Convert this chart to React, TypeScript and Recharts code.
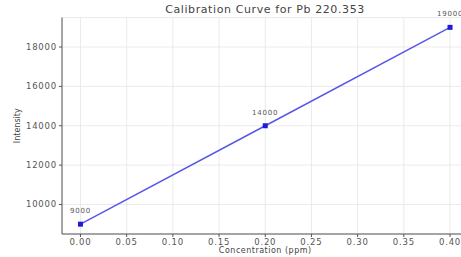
import React from 'react';
import {
  LineChart,
  Line,
  XAxis,
  YAxis,
  CartesianGrid,
  LabelList,
  Label,
} from 'recharts';

// Calibration standards
const concentrations = [0, 0.2, 0.4];
const intensities = [9000, 14000, 19000];

const xTicks = [0, 0.05, 0.1, 0.15, 0.2, 0.25, 0.3, 0.35, 0.4];
const yTicks = [10000, 12000, 14000, 16000, 18000];

const FONT = '"DejaVu Sans", sans-serif';
const TICK = { fontSize: 8.5, fill: '#555', fontFamily: FONT, letterSpacing: 0.8 };

const data = concentrations.map((c, i) => ({ x: c, y: intensities[i] }));

// square marker like matplotlib 's'
const SquareDot = (props: any) => {
  const { cx, cy } = props;
  if (cx == null || cy == null) return null;
  return <rect x={cx - 2.5} y={cy - 2.5} width={5} height={5} fill="#1c1cd6" />;
};

export default function App() {
  return (
    <div
      style={{
        position: 'absolute',
        left: 0,
        top: 0,
        width: 461,
        height: 257,
        overflow: 'hidden',
        background: '#fff',
      }}
    >
      <div
        style={{
          position: 'absolute',
          top: 3,
          left: 62,
          width: 406,
          textAlign: 'center',
          fontFamily: FONT,
          fontSize: 11,
          letterSpacing: 0.6,
          color: '#444',
        }}
      >
        Calibration Curve for Pb 220.353
      </div>
      <LineChart
        width={470}
        height={257}
        data={data}
        margin={{ top: 17.5, right: 1.5, bottom: 0, left: 0 }}
      >
        <CartesianGrid stroke="#e6e6e6" strokeWidth={0.8} />
        <XAxis
          dataKey="x"
          type="number"
          domain={[-0.02, 0.42]}
          ticks={xTicks}
          tickFormatter={(v: number) => v.toFixed(2)}
          tick={TICK}
          height={23}
          tickSize={3}
          stroke="#555"
          allowDataOverflow
        >
          <Label
            value="Concentration (ppm)"
            position="insideBottom"
            offset={4}
            style={{ fontSize: 8, fill: '#444', fontFamily: FONT, letterSpacing: 0.5 }}
          />
        </XAxis>
        <YAxis
          type="number"
          domain={[8500, 19500]}
          ticks={yTicks}
          tick={TICK}
          width={62}
          tickSize={3}
          stroke="#555"
          allowDataOverflow
        >
          <Label
            value="Intensity"
            angle={-90}
            position="insideLeft"
            offset={17}
            style={{ fontSize: 8, fill: '#444', fontFamily: FONT, textAnchor: 'middle' }}
          />
        </YAxis>
        <Line
          type="linear"
          dataKey="y"
          stroke="#5858e8"
          strokeWidth={1.5}
          dot={<SquareDot />}
          activeDot={false}
          isAnimationActive={false}
        >
          <LabelList
            dataKey="y"
            position="top"
            offset={11}
            style={{ fontSize: 7, fill: '#555', fontFamily: FONT, letterSpacing: 0.8 }}
          />
        </Line>
      </LineChart>
    </div>
  );
}
